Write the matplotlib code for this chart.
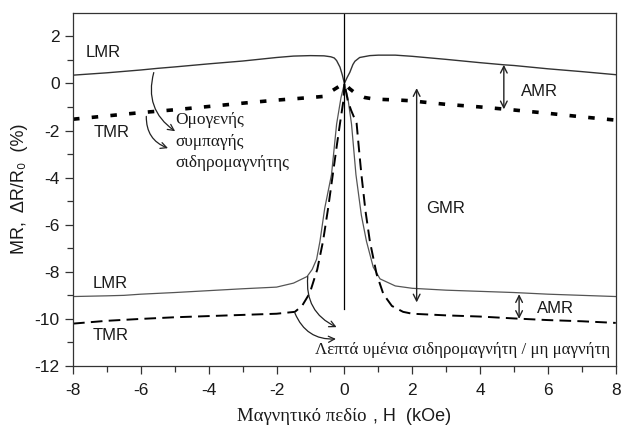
import matplotlib
matplotlib.use("Agg")
import matplotlib.pyplot as plt
from matplotlib.ticker import FixedLocator

plt.rcParams['axes.unicode_minus'] = False

# ---- data ----
lmr_top_x = [-8, -7, -6, -5.5, -5, -4, -3, -2, -1.5, -1, -0.6, -0.4, -0.3, -0.23, -0.13, -0.06, 0,
             0.08, 0.16, 0.25, 0.31, 0.45, 0.75, 1, 1.5, 2, 3, 4, 4.7, 5, 6, 7, 8]
lmr_top_y = [0.35, 0.45, 0.57, 0.64, 0.70, 0.83, 0.95, 1.10, 1.16, 1.18, 1.17, 1.13, 1.08, 0.97, 0.69, 0.35, 0.0,
             0.25, 0.47, 0.80, 0.94, 1.10, 1.18, 1.20, 1.20, 1.15, 1.02, 0.88, 0.79, 0.76, 0.62, 0.50, 0.37]

tmr_top_x = [-8, -7, -6, -5, -4, -3, -2, -1, -0.6, -0.36, -0.15, 0,
             0.15, 0.36, 0.6, 0.9, 1.5, 2, 2.3, 3, 4, 4.7, 5, 6, 7, 8]
tmr_top_y = [-1.52, -1.38, -1.24, -1.12, -0.98, -0.84, -0.71, -0.60, -0.55, -0.31, -0.12, 0.0,
             -0.22, -0.46, -0.60, -0.67, -0.70, -0.74, -0.79, -0.89, -1.00, -1.09, -1.13, -1.27, -1.42, -1.56]

lmr_bot_x = [-8, -7, -6.5, -6, -5, -4, -3, -2, -1.5, -1.1, -0.95, -0.82, -0.72, -0.58, -0.38, -0.23, -0.1, 0,
             0.1, 0.21, 0.34, 0.5, 0.65, 0.85, 1.05, 1.5, 2, 3, 4, 5, 6, 7, 8]
lmr_bot_y = [-9.05, -9.02, -9.00, -8.95, -8.88, -8.80, -8.72, -8.65, -8.48, -8.20, -7.90, -7.47, -6.70, -5.30, -3.87, -1.73, -0.60, 0.0,
             -0.60, -1.73, -3.87, -5.60, -6.70, -7.80, -8.30, -8.60, -8.70, -8.78, -8.83, -8.88, -8.95, -9.00, -9.05]

tmr_bot_x = [-8, -7, -6, -5, -4, -3, -2, -1.46, -1.25, -1.02, -0.8, -0.63, -0.48, -0.34, -0.22, -0.13, -0.03, 0,
             0.1, 0.2, 0.36, 0.43, 0.5, 0.62, 0.75, 0.95, 1.15, 1.4, 1.73, 2, 3, 4, 5, 6, 7, 8]
tmr_bot_y = [-10.20, -10.08, -10.00, -9.93, -9.88, -9.83, -9.78, -9.70, -9.45, -8.90, -7.90, -6.70, -5.30, -3.85, -2.60, -1.70, -0.74, 0.0,
             -0.74, -1.15, -1.70, -2.80, -3.85, -5.40, -6.70, -8.10, -8.95, -9.45, -9.70, -9.78, -9.85, -9.90, -9.98, -10.05, -10.10, -10.17]

x_ticks = [-8, -6, -4, -2, 0, 2, 4, 6, 8]
y_ticks = [-12, -10, -8, -6, -4, -2, 0, 2]

SANS = ['Liberation Sans', 'DejaVu Sans']
SERIF = ['Liberation Serif', 'DejaVu Serif']
TXT = '#1a1a1a'

fig = plt.figure(figsize=(6.22, 4.25), dpi=100)
ax = fig.add_axes([0.1174, 0.1388, 0.8726, 0.8312])

ax.plot(lmr_top_x, lmr_top_y, color='#333333', lw=1.0)
ax.plot(tmr_top_x, tmr_top_y, color='black', lw=2.6, dashes=(1.8, 3.4))
ax.plot(lmr_bot_x, lmr_bot_y, color='#555555', lw=0.9)
ax.plot(tmr_bot_x, tmr_bot_y, color='black', lw=1.4, dashes=(6, 3.2))
ax.plot([0, 0], [-9.6, 3], color='black', lw=0.9)

ax.set_xlim(-8, 8)
ax.set_ylim(-12, 3)
ax.set_xticks(x_ticks)
ax.set_yticks(y_ticks)
ax.xaxis.set_minor_locator(FixedLocator([-7, -5, -3, -1, 1, 3, 5, 7]))
ax.yaxis.set_minor_locator(FixedLocator([-11, -9, -7, -5, -3, -1, 1]))
ax.tick_params(which='both', direction='out', color='#333333', width=0.9)
ax.tick_params(which='major', length=5.5, labelsize=12.5, labelcolor=TXT, pad=4)
ax.tick_params(which='minor', length=4.5)
ax.tick_params(axis='x', which='major', pad=7)
for lab in ax.get_xticklabels() + ax.get_yticklabels():
    lab.set_family(SANS)
for s in ax.spines.values():
    s.set_color('#333333')
    s.set_linewidth(0.9)

# axis labels
fig.text(0.032, 0.555, 'MR,  ΔR/R₀  (%)', rotation=90, ha='center', va='center',
         fontsize=13, family=SANS, color=TXT)
fig.text(0.590, 0.009, 'Μαγνητικό πεδίο', ha='right', va='baseline',
         fontsize=13.5, family=SERIF, color=TXT)
fig.text(0.592, 0.009, ' , H  (kOe)', ha='left', va='baseline',
         fontsize=13, family=SANS, color=TXT)

# curve labels
ax.text(-7.63, 1.32, 'LMR', fontsize=12, family=SANS, color=TXT, va='center')
ax.text(-7.4, -2.1, 'TMR', fontsize=12, family=SANS, color=TXT, va='center')
ax.text(-7.43, -8.5, 'LMR', fontsize=12, family=SANS, color=TXT, va='center')
ax.text(-7.43, -10.7, 'TMR', fontsize=12, family=SANS, color=TXT, va='center')
ax.text(2.42, -5.3, 'GMR', fontsize=12, family=SANS, color=TXT, va='center')
ax.text(5.2, -0.34, 'AMR', fontsize=12, family=SANS, color=TXT, va='center')
ax.text(5.68, -9.55, 'AMR', fontsize=12, family=SANS, color=TXT, va='center')

ax.text(-4.98, -1.22, 'Ομογενής\nσυμπαγής\nσιδηρομαγνήτης', fontsize=12.5, family=SERIF,
        color=TXT, va='top', ha='left', linespacing=1.45)
ax.text(7.84, -11.3, 'Λεπτά υμένια σιδηρομαγνήτη / μη μαγνήτη', fontsize=12.2,
        family=SERIF, color=TXT, va='center', ha='right')

# double arrows
dbl = dict(arrowstyle='<->', color='#222222', lw=1.0, mutation_scale=12, shrinkA=0, shrinkB=0)
ax.annotate('', xy=(2.13, -0.2), xytext=(2.13, -9.3), arrowprops=dbl)
ax.annotate('', xy=(4.7, 0.79), xytext=(4.7, -1.1), arrowprops=dbl)
ax.annotate('', xy=(5.15, -8.95), xytext=(5.15, -10.0), arrowprops=dbl)

# curved pointer arrows
crv = dict(arrowstyle='->', color='#222222', lw=0.9, mutation_scale=11,
           connectionstyle='arc3,rad=0.35', shrinkA=0, shrinkB=0)
ax.annotate('', xy=(-4.99, -2.03), xytext=(-5.62, 0.46), arrowprops=crv)
ax.annotate('', xy=(-5.2, -2.75), xytext=(-5.84, -1.4), arrowprops=crv)
ax.annotate('', xy=(-0.23, -10.35), xytext=(-1.08, -8.2), arrowprops=crv)
ax.annotate('', xy=(-0.25, -10.85), xytext=(-1.46, -9.75), arrowprops=crv)

fig.savefig('out.png', dpi=100)
